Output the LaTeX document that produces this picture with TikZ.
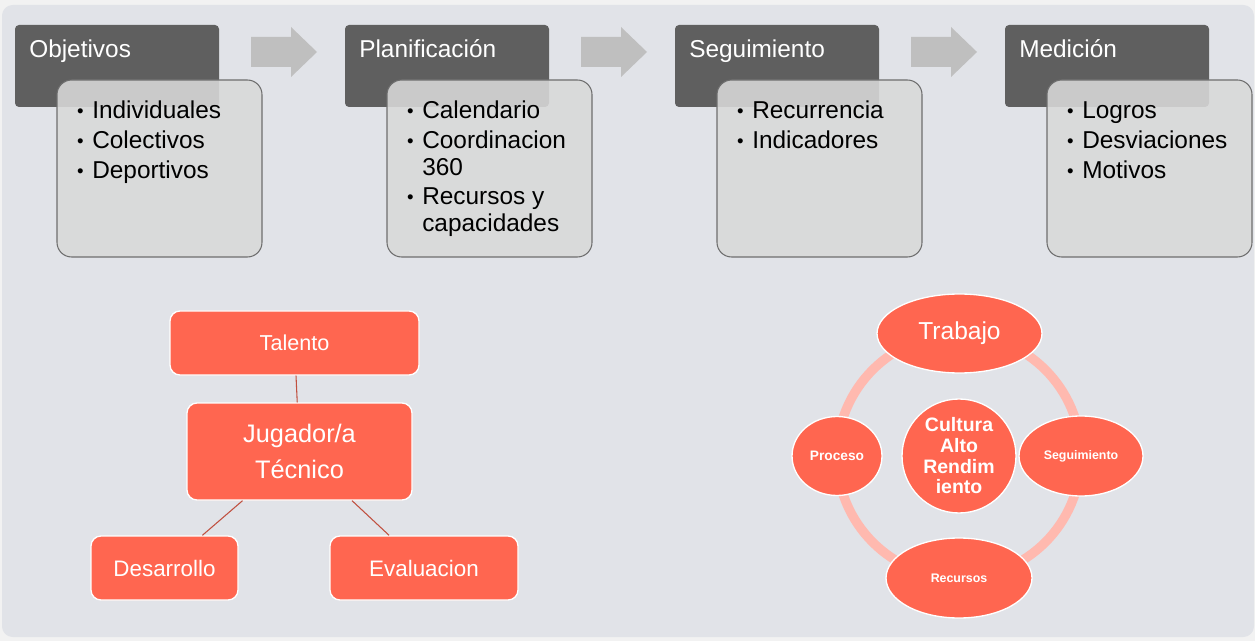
\documentclass[tikz,border=0pt]{standalone}
\usepackage{fontspec}
\setmainfont{Liberation Sans}
\usepackage{xcolor}
\usetikzlibrary{shapes.geometric}
\definecolor{bgout}{RGB}{242,242,242}
\definecolor{bgin}{RGB}{225,227,232}
\definecolor{hdr}{RGB}{95,95,95}
\definecolor{lbox}{RGB}{217,217,217}
\definecolor{lbord}{RGB}{110,110,110}
\definecolor{arr}{RGB}{191,191,191}
\definecolor{coral}{RGB}{255,102,80}
\definecolor{ringc}{RGB}{255,185,175}
\definecolor{conn}{RGB}{192,80,64}
\newcommand{\fs}[2]{\fontsize{#1}{#2}\selectfont}
\newcommand{\bul}{\makebox[12pt][l]{\hspace{0.6pt}\raisebox{1.3pt}{\fs{14}{14}\textbullet}}}

\tikzset{
  hdrbox/.style={fill=hdr,rounded corners=3pt,minimum width=153pt,minimum height=61.5pt,inner sep=0pt},
  itembox/.style={fill=lbox,fill opacity=0.88,draw=lbord,draw opacity=1,line width=0.8pt,rounded corners=11pt,minimum width=153.75pt,minimum height=132.75pt,inner sep=0pt},
  hdrtxt/.style={anchor=base west,text=white,font=\fs{18.3}{20},inner sep=0pt},
  itemtxt/.style={anchor=base west,font=\fs{18.3}{20},inner sep=0pt},
  orgbox/.style={fill=coral,draw=white,line width=1pt,rounded corners=7.5pt,text=white,inner sep=0pt,align=center},
  cycnode/.style={ellipse,fill=coral,draw=white,line width=1pt,text=white,inner sep=0pt,align=center},
  conn/.style={draw=conn,line width=0.8pt}
}

\begin{document}
\begin{tikzpicture}[x=0.75pt,y=-0.75pt]
  \useasboundingbox (0,0) rectangle (1255,641);
  % background
  \fill[bgout] (0,0) rectangle (1255,641);
  \fill[bgin,rounded corners=8pt] (2,5) rectangle (1254,637);

  % process row: dark headers
  \node[hdrbox] (hobj) at (117,66) {};
  \node[hdrbox] (hpla) at (447,66) {};
  \node[hdrbox] (hseg) at (777,66) {};
  \node[hdrbox] (hmed) at (1107,66) {};

  % light boxes
  \node[itembox] (bobj) at (159.5,168.5) {};
  \node[itembox] (bpla) at (489.5,168.5) {};
  \node[itembox] (bseg) at (819.5,168.5) {};
  \node[itembox] (bmed) at (1149.5,168.5) {};

  % block arrows
  \foreach \dx in {0,330,660}
    \fill[arr,shift={(\dx,0)}] (251,37) -- (291,37) -- (291,27) -- (317,52)
      -- (291,77) -- (291,67) -- (251,67) -- cycle;

  % header texts
  \node[hdrtxt] (tobj) at (29,58) {Objetivos};
  \node[hdrtxt] (tpla) at (359,58) {Planificación};
  \node[hdrtxt] (tseg) at (689,58) {Seguimiento};
  \node[hdrtxt] (tmed) at (1019,58) {Medición};

  % items
  \node[itemtxt] (obj1) at (76,119) {\bul Individuales};
  \node[itemtxt] (obj2) at (76,149) {\bul Colectivos};
  \node[itemtxt] (obj3) at (76,179) {\bul Deportivos};

  \node[itemtxt] (pla1) at (406,119) {\bul Calendario};
  \node[itemtxt] (pla2) at (406,149) {\bul Coordinacion};
  \node[itemtxt] (pla2b) at (422,176) {360};
  \node[itemtxt] (pla3) at (406,205) {\bul Recursos y};
  \node[itemtxt] (pla3b) at (422,232) {capacidades};

  \node[itemtxt] (seg1) at (736,119) {\bul Recurrencia};
  \node[itemtxt] (seg2) at (736,149) {\bul Indicadores};

  \node[itemtxt] (med1) at (1066,119) {\bul Logros};
  \node[itemtxt] (med2) at (1066,149) {\bul Desviaciones};
  \node[itemtxt] (med3) at (1066,179) {\bul Motivos};

  % hierarchy
  \node[orgbox,minimum width=186.75pt,minimum height=48pt,font=\fs{16.2}{19}] (tal) at (294.5,343) {Talento};
  \node[orgbox,minimum width=168.75pt,minimum height=72.75pt,font=\fs{19}{27}] (jug) at (299.5,451.5) {Jugador/a\\Técnico};
  \node[orgbox,minimum width=110.25pt,minimum height=48pt,font=\fs{16.8}{19}] (des) at (164.5,568) {Desarrollo};
  \node[orgbox,minimum width=141pt,minimum height=48pt,font=\fs{16.8}{19}] (eva) at (424,568) {Evaluacion};
  \draw[conn] (tal) -- (jug);
  \draw[conn] (jug) -- (des);
  \draw[conn] (jug) -- (eva);

  % cycle
  \coordinate (cyc) at (959,456);
  \draw[ringc,line width=7pt] (cyc) circle[radius=122];
  \node[cycnode,minimum width=85.5pt,minimum height=85.5pt,font=\bfseries\fs{14.6}{15.5}] (cult) at (cyc) {Cultura\\Alto\\Rendim\\iento};
  \node[cycnode,minimum width=123.75pt,minimum height=59.25pt,font=\fs{18.4}{20}] (trab) at (959.5,333.5) {Trabajo};
  \node[cycnode,minimum width=93pt,minimum height=60pt,font=\bfseries\fs{9.3}{11}] (segu) at (1081,456) {Seguimiento};
  \node[cycnode,minimum width=109.5pt,minimum height=60pt,font=\bfseries\fs{9.3}{11}] (recu) at (959,578) {Recursos};
  \node[cycnode,minimum width=67.5pt,minimum height=59.25pt,font=\bfseries\fs{10.3}{12}] (proc) at (837,456) {Proceso};
\end{tikzpicture}
\end{document}
